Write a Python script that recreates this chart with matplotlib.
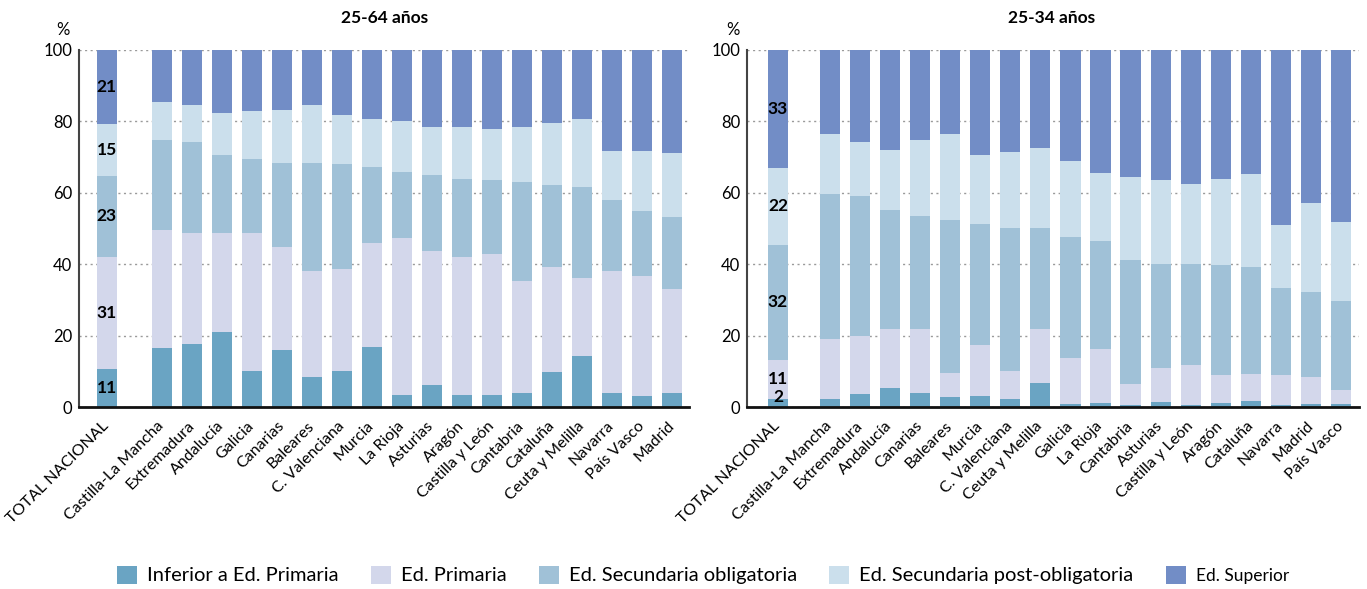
import matplotlib
matplotlib.use("Agg")
import matplotlib.pyplot as plt
import matplotlib.transforms as mtransforms
import numpy as np

plt.rcParams['font.family'] = ['Lato', 'DejaVu Sans']

# ---------------- data ----------------
series = ["Inferior a Ed. Primaria", "Ed. Primaria", "Ed. Secundaria obligatoria",
          "Ed. Secundaria post-obligatoria", "Ed. Superior"]
colors = ["#6AA4C3", "#D3D7EB", "#A0C1D7", "#CBDFEC", "#728DC6"]

regions_2564 = ["TOTAL NACIONAL", "Castilla-La Mancha", "Extremadura", "Andalucía", "Galicia",
                "Canarias", "Baleares", "C. Valenciana", "Murcia", "La Rioja", "Asturias",
                "Aragón", "Castilla y León", "Cantabria", "Cataluña", "Ceuta y Melilla",
                "Navarra", "País Vasco", "Madrid"]
inferior_2564 = [10.7, 16.6, 17.7, 21.1, 10.2, 16.0, 8.5, 10.2, 16.9, 3.5, 6.3, 3.5, 3.5, 4.0, 9.9, 14.4, 4.0, 3.2, 4.0]
primaria_2564 = [31.4, 33.0, 31.1, 27.7, 38.6, 28.9, 29.7, 28.5, 29.1, 43.9, 37.5, 38.6, 39.4, 31.4, 29.4, 21.8, 34.2, 33.6, 29.1]
sec_obl_2564 = [22.6, 25.2, 25.5, 21.8, 20.7, 23.5, 30.2, 29.4, 21.3, 18.5, 21.2, 21.8, 20.7, 27.7, 22.9, 25.5, 19.8, 18.1, 20.2]
sec_post_2564 = [14.6, 10.6, 10.3, 11.8, 13.4, 14.8, 16.2, 13.7, 13.4, 14.2, 13.5, 14.6, 14.3, 15.4, 17.4, 19.0, 13.7, 16.8, 17.9]
superior_2564 = [20.7, 14.6, 15.4, 17.6, 17.1, 16.8, 15.4, 18.2, 19.3, 19.9, 21.5, 21.5, 22.1, 21.5, 20.4, 19.3, 28.3, 28.3, 28.8]

regions_2534 = ["TOTAL NACIONAL", "Castilla-La Mancha", "Extremadura", "Andalucía", "Canarias",
                "Baleares", "Murcia", "C. Valenciana", "Ceuta y Melilla", "Galicia", "La Rioja",
                "Cantabria", "Asturias", "Castilla y León", "Aragón", "Cataluña", "Navarra",
                "Madrid", "País Vasco"]
inferior_2534 = [2.3, 2.3, 3.7, 5.4, 4.0, 2.9, 3.2, 2.3, 6.8, 0.9, 1.2, 0.7, 1.5, 0.7, 1.2, 1.8, 0.7, 0.9, 0.9]
primaria_2534 = [10.9, 16.8, 16.3, 16.5, 17.9, 6.7, 14.2, 7.9, 15.1, 12.9, 15.1, 5.8, 9.5, 11.1, 7.8, 7.5, 8.3, 7.6, 4.0]
sec_obl_2534 = [32.2, 40.6, 39.1, 33.3, 31.6, 42.8, 33.9, 40.0, 28.3, 33.9, 30.2, 34.7, 29.1, 28.3, 30.8, 30.0, 24.4, 23.8, 24.9]
sec_post_2534 = [21.6, 16.8, 15.2, 16.8, 21.3, 24.1, 19.3, 21.3, 22.4, 21.2, 19.0, 23.3, 23.5, 22.4, 24.1, 25.9, 17.5, 24.9, 22.1]
superior_2534 = [33.0, 23.5, 25.7, 28.0, 25.2, 23.5, 29.4, 28.5, 27.4, 31.1, 34.5, 35.5, 36.4, 37.5, 36.1, 34.8, 49.1, 42.8, 48.1]

titles = ["25-64 años", "25-34 años"]
yticks = [0, 20, 40, 60, 80, 100]

# ---------------- figure ----------------
W, H = 1367, 589
fig = plt.figure(figsize=(W / 100, H / 100), dpi=100)

panels = [
    dict(regions=regions_2564,
         vals=[inferior_2564, primaria_2564, sec_obl_2564, sec_post_2564, superior_2564],
         rect=[79 / W, 1 - 407 / H, (689 - 79) / W, (407 - 50) / H],
         gap=1.83, xlim_lo=-0.93, xlim_hi_pad=0.57, title_x=385, pct_x=63),
    dict(regions=regions_2534,
         vals=[inferior_2534, primaria_2534, sec_obl_2534, sec_post_2534, superior_2534],
         rect=[747 / W, 1 - 407 / H, (1359 - 747) / W, (407 - 50) / H],
         gap=1.73, xlim_lo=-1.03, xlim_hi_pad=0.60, title_x=1052, pct_x=733),
]

offset = mtransforms.ScaledTranslation(4 / 100, 2 / 100, fig.dpi_scale_trans)

handles = None
for p, title in zip(panels, titles):
    ax = fig.add_axes(p["rect"])
    n = len(p["regions"])
    x = np.array([0.0] + [p["gap"] + i for i in range(n - 1)])
    bottom = np.zeros(n)
    hs = []
    for k, (vals, col, name) in enumerate(zip(p["vals"], colors, series)):
        v = np.array(vals)
        b = ax.bar(x, v, width=0.67, bottom=bottom, color=col, label=name, zorder=3,
                   linewidth=0)
        hs.append(b)
        # value labels on TOTAL NACIONAL bar
        h = v[0]
        yc = bottom[0] + h / 2
        if h < 6:
            yc = bottom[0] + 2.8
        ax.text(x[0], yc, f"{round(h):d}", ha="center", va="center",
                fontsize=12.5, fontweight="bold", color="black", zorder=5)
        bottom = bottom + v
    handles = hs

    ax.set_ylim(0, 100)
    ax.set_xlim(p["xlim_lo"], x[-1] + p["xlim_hi_pad"])
    ax.set_yticks(yticks)
    ax.set_yticklabels([str(t) for t in yticks], fontsize=12)
    ax.set_xticks(x)
    ax.set_xticklabels(p["regions"], rotation=45, ha="right", va="center",
                       rotation_mode="anchor", fontsize=11.5)
    for lbl in ax.get_xticklabels():
        lbl.set_transform(lbl.get_transform() + offset)
    ax.tick_params(axis="both", length=0)
    ax.tick_params(axis="y", pad=5)
    ax.tick_params(axis="x", pad=12)
    ax.yaxis.grid(True, linestyle=(0, (1.5, 2.5)), color="#9a9a9a", linewidth=1.0, zorder=0)
    ax.set_axisbelow(True)
    for s in ["top", "right"]:
        ax.spines[s].set_visible(False)
    ax.spines["left"].set_color("#444444")
    ax.spines["left"].set_linewidth(1.5)
    ax.spines["bottom"].set_color("#111111")
    ax.spines["bottom"].set_linewidth(2)
    ax.spines["bottom"].set_zorder(4)

    fig.text(p["title_x"] / W, 1 - 18 / H, title, ha="center", va="center",
             fontsize=12.5, fontweight="bold")
    fig.text(p["pct_x"] / W, 1 - 30 / H, "%", ha="center", va="center", fontsize=12)

leg = fig.legend(handles, series, loc="center", bbox_to_anchor=(703 / W, 1 - 575 / H),
                 ncol=5, frameon=False, fontsize=14.5, handlelength=1.0, handleheight=1.0,
                 handletextpad=0.5, columnspacing=1.6)
leg.get_texts()[4].set_fontsize(12.5)

fig.savefig("out.png", dpi=100)
